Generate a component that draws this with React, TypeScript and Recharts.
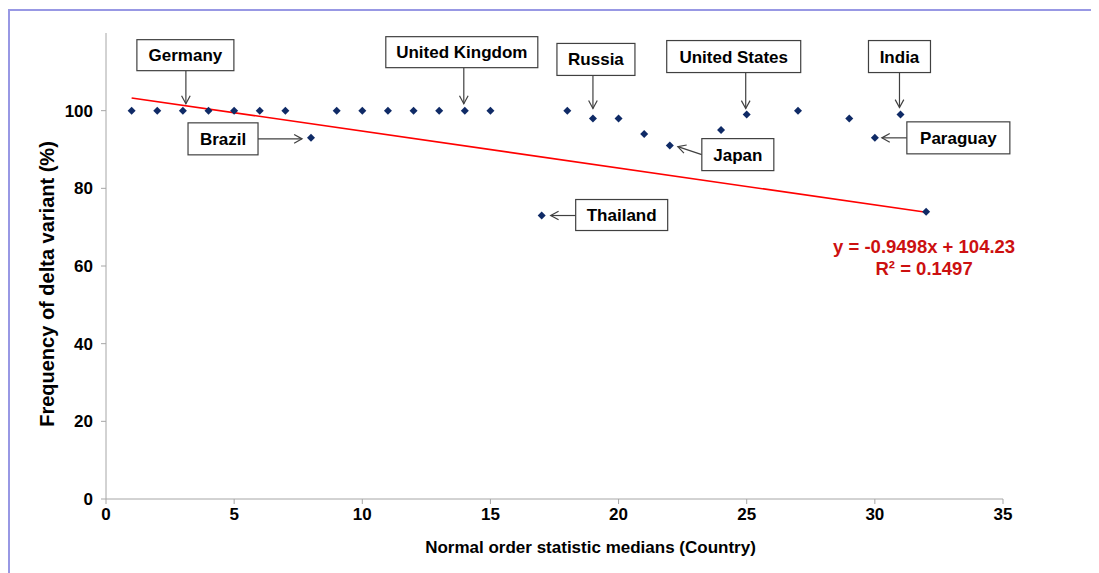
import {
  ComposedChart,
  Scatter,
  XAxis,
  YAxis,
  ReferenceLine,
  ReferenceDot,
  Label,
} from "recharts";

// country rank (normal order statistic median) and delta frequency (%)
const ranks = [1, 2, 3, 4, 5, 6, 7, 8, 9, 10, 11, 12, 13, 14, 15, 17, 18, 19, 20, 21, 22, 24, 25, 27, 29, 30, 31, 32];
const frequency = [100, 100, 100, 100, 100, 100, 100, 93, 100, 100, 100, 100, 100, 100, 100, 73, 100, 98, 98, 94, 91, 95, 99, 100, 98, 93, 99, 74];

const labelledCountries = ["Germany", "United Kingdom", "Russia", "United States", "India", "Brazil", "Paraguay", "Japan", "Thailand"];
const labelledRanks = [3, 14, 19, 25, 31, 8, 30, 22, 17];

const xTicks = [0, 5, 10, 15, 20, 25, 30, 35];
const yTicks = [0, 20, 40, 60, 80, 100];

// linear trend as printed on the chart
const SLOPE = -0.9498;
const INTERCEPT = 104.23;
const R2 = 0.1497;

const points = ranks.map((x, i) => ({ x, y: frequency[i] }));

// callout box + arrow offsets, in px relative to the point
const callouts: Record<string, { l: number; t: number; w: number; h: number; a: number[] }> = {
  Germany: { l: -46, t: -71, w: 97, h: 31, a: [3, -40, 3, -7] },
  "United Kingdom": { l: -79, t: -74, w: 152, h: 31, a: [-1, -43, -1, -7] },
  Russia: { l: -36, t: -75, w: 78, h: 32, a: [0, -43, 0, -10] },
  "United States": { l: -80, t: -74, w: 134, h: 32, a: [-1, -42, -1, -6] },
  India: { l: -32, t: -74, w: 62, h: 32, a: [-1, -42, -1, -7] },
  Brazil: { l: -123, t: -15, w: 70, h: 32, a: [-53, 1, -9, 1] },
  Paraguay: { l: 32, t: -16, w: 103, h: 32, a: [32, 0, 7, 0] },
  Japan: { l: 32, t: -7, w: 72, h: 32, a: [32, 9, 8, 1] },
  Thailand: { l: 34, t: -16, w: 92, h: 31, a: [34, 0, 9, 0] },
};

const FONT = "'Liberation Sans', Arial, sans-serif";

const Diamond = (p: any) => {
  const { cx, cy } = p;
  return <polygon points={`${cx},${cy - 4} ${cx + 4},${cy} ${cx},${cy + 4} ${cx - 4},${cy}`} fill="#0f2a66" />;
};

const Callout = (name: string) => (p: any) => {
  const { cx, cy } = p;
  const c = callouts[name];
  const [x1, y1, x2, y2] = c.a;
  const ang = Math.atan2(y2 - y1, x2 - x1);
  const len = 9;
  const hx = cx + x2;
  const hy = cy + y2;
  const w1 = ang + Math.PI - 0.5;
  const w2 = ang + Math.PI + 0.5;
  return (
    <g>
      <line x1={cx + x1} y1={cy + y1} x2={hx} y2={hy} stroke="#404040" strokeWidth={1.2} />
      <polyline
        points={`${hx + len * Math.cos(w1)},${hy + len * Math.sin(w1)} ${hx},${hy} ${hx + len * Math.cos(w2)},${hy + len * Math.sin(w2)}`}
        fill="none"
        stroke="#404040"
        strokeWidth={1.2}
      />
      <rect x={cx + c.l} y={cy + c.t} width={c.w} height={c.h} fill="#fff" stroke="#404040" strokeWidth={1.2} />
      <text
        x={cx + c.l + c.w / 2}
        y={cy + c.t + c.h / 2 + 6}
        textAnchor="middle"
        fontFamily={FONT}
        fontWeight="bold"
        fontSize={17}
        fill="#000"
      >
        {name}
      </text>
    </g>
  );
};

const Equation = (p: any) => {
  const { cx, cy } = p;
  return (
    <g fontFamily={FONT} fontWeight="bold" fontSize={18.5} fill="#cc1010" textAnchor="middle">
      <text x={cx - 2} y={cy + 41}>{`y = ${SLOPE}x + ${INTERCEPT}`}</text>
      <text x={cx - 2} y={cy + 63}>{`R² = ${R2}`}</text>
    </g>
  );
};

const xMin = Math.min(...ranks);
const xMax = Math.max(...ranks);

export default function App() {
  return (
    <div
      style={{
        width: 1091,
        height: 565,
        marginTop: 1,
        borderTop: "2px solid #9898e4",
        borderLeft: "2px solid #9898e4",
        boxSizing: "border-box",
      }}
    >
      <ComposedChart width={1089} height={562} margin={{ top: 22, right: 96, left: 0, bottom: 0 }}>
        <XAxis
          type="number"
          dataKey="x"
          domain={[0, 35]}
          ticks={xTicks}
          height={74}
          tickSize={5}
          tickMargin={4}
          stroke="#a6a6a6"
          tick={{ fill: "#000", fontSize: 17, fontWeight: "bold", fontFamily: FONT }}
        >
          <Label
            content={({ viewBox }: any) => (
              <text
                x={viewBox.x + viewBox.width / 2 + 36}
                y={viewBox.y + 54}
                textAnchor="middle"
                fontFamily={FONT}
                fontWeight="bold"
                fontSize={17}
                fill="#000"
              >
                Normal order statistic medians (Country)
              </text>
            )}
          />
        </XAxis>
        <YAxis
          type="number"
          dataKey="y"
          domain={[0, 120]}
          ticks={yTicks}
          width={96}
          tickSize={5}
          tickMargin={8}
          stroke="#a6a6a6"
          tick={{ fill: "#000", fontSize: 17, fontWeight: "bold", fontFamily: FONT }}
        >
          <Label
            content={({ viewBox }: any) => {
              const x = viewBox.x + 44;
              const y = viewBox.y + viewBox.height / 2 + 18;
              return (
                <text
                  x={x}
                  y={y}
                  transform={`rotate(-90 ${x} ${y})`}
                  textAnchor="middle"
                  fontFamily={FONT}
                  fontWeight="bold"
                  fontSize={20}
                  fill="#000"
                >
                  Frequency of delta variant (%)
                </text>
              );
            }}
          />
        </YAxis>
        <ReferenceLine
          segment={[
            { x: xMin, y: SLOPE * xMin + INTERCEPT },
            { x: xMax, y: SLOPE * xMax + INTERCEPT },
          ]}
          stroke="#ff0000"
          strokeWidth={1.6}
        />
        <Scatter data={points} shape={Diamond} isAnimationActive={false} />
        {labelledCountries.map((name, i) => {
          const x = labelledRanks[i];
          const y = frequency[ranks.indexOf(x)];
          return <ReferenceDot key={name} x={x} y={y} shape={Callout(name)} />;
        })}
        <ReferenceDot x={xMax} y={SLOPE * xMax + INTERCEPT} shape={Equation} />
      </ComposedChart>
    </div>
  );
}
